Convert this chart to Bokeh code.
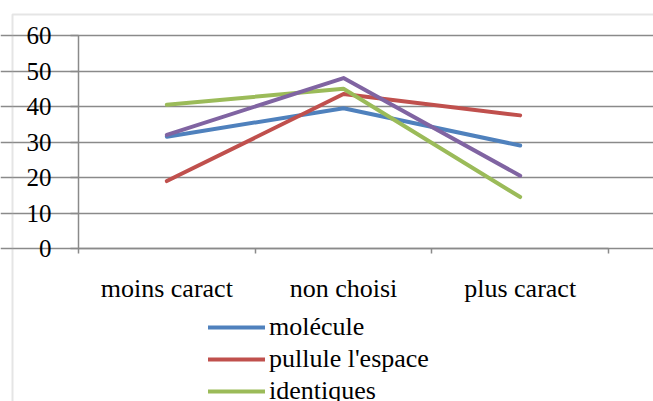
from bokeh.plotting import figure
from bokeh.models import Range1d, FixedTicker, Legend, LegendItem, BoxAnnotation
from bokeh.embed import file_html
from bokeh.resources import INLINE

categories = ["moins caract", "non choisi", "plus caract"]
molecule = [31.5, 39.5, 29.0]
pullule = [19.0, 43.5, 37.5]
identiques = [40.5, 45.0, 14.5]
quatrieme = [32.0, 48.0, 20.5]
y_ticks = [0, 10, 20, 30, 40, 50, 60]

series = [
    ("molécule", molecule, "#4F81BD"),
    ("pullule l'espace", pullule, "#C0504D"),
    ("identiques", identiques, "#9BBB59"),
    (None, quatrieme, "#8064A2"),
]

xs = [i + 0.5 for i in range(len(categories))]
bounds = [i for i in range(len(categories) + 1)]

FONT = "Liberation Serif"
GRAY = "#8a8a8a"

# layout in canvas pixels (the frame covers the whole canvas)
W, H = 653, 401
PLOT_L, PLOT_R, PLOT_T, PLOT_B = 78, 608, 35, 248
n = len(categories)
px_x = (PLOT_R - PLOT_L) / n
px_y = (PLOT_B - PLOT_T) / (y_ticks[-1] - y_ticks[0])
x_start = -PLOT_L / px_x
x_end = n + (W - PLOT_R) / px_x
y_end = y_ticks[-1] + PLOT_T / px_y
y_start = y_ticks[0] - (H - PLOT_B) / px_y

p = figure(width=W, height=H,
           x_range=Range1d(x_start, x_end), y_range=Range1d(y_start, y_end),
           output_backend="svg", toolbar_location=None,
           min_border=0, min_border_left=0, min_border_right=0,
           min_border_top=0, min_border_bottom=0)
p.outline_line_color = None
p.background_fill_color = "white"
p.border_fill_color = "white"

p.xgrid.visible = False
p.ygrid.grid_line_color = GRAY
p.ygrid.grid_line_width = 1.5
p.ygrid.ticker = FixedTicker(ticks=y_ticks)
p.ygrid.bounds = (0, n)

p.yaxis.fixed_location = 0
p.yaxis.ticker = FixedTicker(ticks=y_ticks)
p.yaxis.bounds = (y_ticks[0], y_ticks[-1])
p.yaxis.axis_line_color = GRAY
p.yaxis.axis_line_width = 1.5
p.yaxis.major_tick_line_color = GRAY
p.yaxis.major_tick_line_width = 1.5
p.yaxis.major_tick_out = 8
p.yaxis.major_tick_in = 0
p.yaxis.minor_tick_line_color = None
p.yaxis.major_label_standoff = 19
p.yaxis.major_label_text_font = FONT
p.yaxis.major_label_text_font_size = "25px"
p.yaxis.major_label_text_color = "black"

p.xaxis.fixed_location = y_ticks[0]
p.xaxis.bounds = (0, n)
p.xaxis.ticker = FixedTicker(ticks=xs, minor_ticks=bounds)
p.xaxis.major_label_overrides = {x: c for x, c in zip(xs, categories)}
p.xaxis.axis_line_color = GRAY
p.xaxis.axis_line_width = 1.5
p.xaxis.major_tick_line_color = None
p.xaxis.major_tick_out = 0
p.xaxis.major_tick_in = 0
p.xaxis.minor_tick_line_color = GRAY
p.xaxis.minor_tick_line_width = 1.5
p.xaxis.minor_tick_out = 5
p.xaxis.minor_tick_in = 0
p.xaxis.major_label_standoff = 20
p.xaxis.major_label_text_font = FONT
p.xaxis.major_label_text_font_size = "26px"
p.xaxis.major_label_text_color = "black"

# chart-area border (only its top and left edges are inside the crop);
# screen y units for this annotation count up from the bottom
p.add_layout(BoxAnnotation(left=12, right=W + 20, top=H - 14, bottom=-20,
                           left_units="screen", right_units="screen",
                           top_units="screen", bottom_units="screen",
                           fill_alpha=0, line_color="#a8a8a8", line_width=2,
                           level="underlay"))

items = []
for name, vals, color in series:
    r = p.line(xs, vals, line_color=color, line_width=4, line_join="round", line_cap="round")
    if name:
        items.append(LegendItem(label=name, renderers=[r]))

legend = Legend(items=items, location=(208, -6), orientation="vertical",
                glyph_width=57, glyph_height=32, label_height=32, spacing=0,
                padding=0, margin=0, label_standoff=4,
                label_text_font=FONT, label_text_font_size="26px", label_text_color="black",
                border_line_color=None, background_fill_alpha=0)
p.add_layout(legend)

open("out.html", "w").write(file_html(p, INLINE))
